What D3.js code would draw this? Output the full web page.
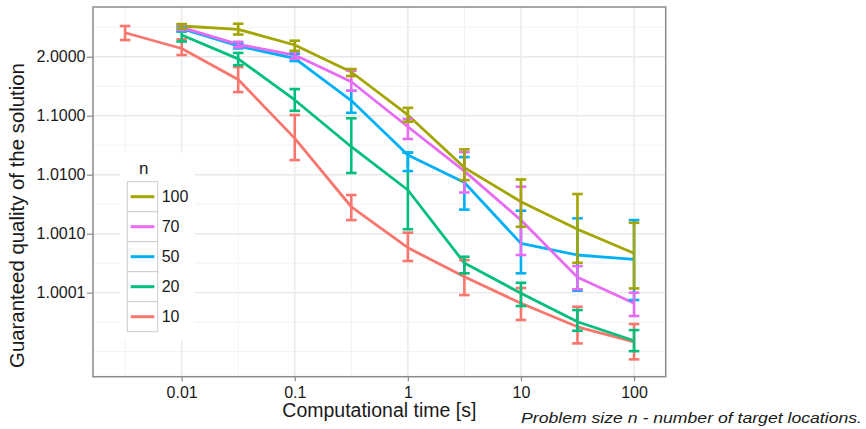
<!DOCTYPE html>
<html>
<head>
<meta charset="utf-8">
<script src="https://cdn.jsdelivr.net/npm/d3@7"></script>
<style>
  body { margin: 0; background: #fff; }
  svg text { font-family: "Liberation Sans", Arial, Helvetica, sans-serif; fill: #1a1a1a; }
</style>
</head>
<body>
<svg id="chart" width="866" height="429"></svg>
<script>
// Computational time [s] for each measurement
const times = [0.00316, 0.01, 0.0316, 0.1, 0.316, 1, 3.16, 10, 31.6, 100];

// Problem sizes (legend order is reversed when drawn)
const sizes = ['10', '20', '50', '70', '100'];

// Gap to optimum (quality - 1): mean, lower and upper error bar, per problem size
const gap10   = [2.55, 1.38, 0.41, 0.0413, 2.86e-3, 5.78e-4, 1.86e-4, 6.6e-5, 2.64e-5, 1.47e-5];
const gap10Lo = [1.92, 1.07, 0.252, 0.0177, 1.70e-3, 3.44e-4, 9.1e-5, 3.44e-5, 1.38e-5, 7.4e-6];
const gap10Hi = [3.32, 1.97, 0.668, 0.103, 4.52e-3, 1.04e-3, 3.57e-4, 1.20e-4, 5.77e-5, 2.94e-5];

const gap20   = [null, 2.33, 0.92, 0.185, 0.0298, 5.5e-3, 3.18e-4, 9.75e-5, 3.21e-5, 1.53e-5];
const gap20Lo = [null, 1.81, 0.72, 0.121, 0.0107, 1.19e-3, 2.13e-4, 5.93e-5, 2.26e-5, 1.02e-5];
const gap20Hi = [null, 2.67, 1.16, 0.283, 0.0904, 0.0236, 4.06e-4, 1.47e-4, 5.07e-5, 2.32e-5];

const gap50   = [null, 2.99, 1.52, 0.94, 0.181, 0.0215, 7.36e-3, 6.85e-4, 4.35e-4, 3.67e-4];
const gap50Lo = [null, 2.73, 1.38, 0.845, 0.112, 0.0115, 2.56e-3, 2.13e-4, 1.08e-4, 7.5e-5];
const gap50Hi = [null, 3.25, 1.71, 1.13, 0.265, 0.0238, 0.0199, 2.45e-3, 1.82e-3, 1.70e-3];

const gap70   = [null, 3.15, 1.62, 1.07, 0.377, 0.065, 0.0115, 1.70e-3, 1.82e-4, 6.6e-5];
const gap70Lo = [null, 2.84, 1.44, 0.93, 0.265, 0.0403, 4.99e-3, 4.35e-4, 1.14e-4, 4.02e-5];
const gap70Hi = [null, 3.44, 1.79, 1.22, 0.58, 0.088, 0.0242, 6.25e-3, 2.82e-4, 9.98e-5];

const gap100   = [null, 3.32, 2.92, 1.58, 0.551, 0.103, 0.0132, 3.48e-3, 1.19e-3, 4.65e-4];
const gap100Lo = [null, 3.01, 2.38, 1.26, 0.471, 0.079, 8.1e-3, 1.31e-3, 3.21e-4, 1.18e-4];
const gap100Hi = [null, 3.58, 3.63, 1.87, 0.618, 0.136, 0.0269, 8.3e-3, 4.7e-3, 1.53e-3];

// Axis ticks
const xTickValues = [0.01, 0.1, 1, 10, 100];
const xTickLabels = ['0.01', '0.1', '1', '10', '100'];
const yTickValues = [1, 0.1, 0.01, 0.001, 0.0001];
const yTickLabels = ['2.0000', '1.1000', '1.0100', '1.0010', '1.0001'];

// ggplot default hues
const colors = { '10': '#F8766D', '20': '#00BF7D', '50': '#00B0F6', '70': '#E76BF3', '100': '#A3A500' };

const seriesValues = {
  '10': [gap10, gap10Lo, gap10Hi],
  '20': [gap20, gap20Lo, gap20Hi],
  '50': [gap50, gap50Lo, gap50Hi],
  '70': [gap70, gap70Lo, gap70Hi],
  '100': [gap100, gap100Lo, gap100Hi]
};

// Build row objects for each series, skipping missing points
const series = sizes.map(n => {
  const [mean, lo, hi] = seriesValues[n];
  const points = times
    .map((t, i) => ({ t, mean: mean[i], lo: lo[i], hi: hi[i] }))
    .filter(d => d.mean !== null);
  return { n, points };
});

const svg = d3.select('#chart');
const panel = { left: 93, right: 665.7, top: 7, bottom: 376.7 };

const x = d3.scaleLog()
  .domain([0.001644, 190.5])
  .range([panel.left, panel.right]);

const y = d3.scaleLog()
  .domain([3.76e-6, 6.97])
  .range([panel.bottom, panel.top]);

// Panel grid (minor lines at half decades, then major lines)
const grid = svg.append('g');
const xMinor = [-2.5, -1.5, -0.5, 0.5, 1.5].map(e => Math.pow(10, e));
const yMinor = d3.range(-5, 1, 0.5).map(e => Math.pow(10, e));

grid.selectAll('.xminor').data(xMinor).enter().append('line')
  .attr('x1', d => x(d)).attr('x2', d => x(d))
  .attr('y1', panel.top).attr('y2', panel.bottom)
  .attr('stroke', '#f2f2f2').attr('stroke-width', 1);
grid.selectAll('.yminor').data(yMinor).enter().append('line')
  .attr('y1', d => y(d)).attr('y2', d => y(d))
  .attr('x1', panel.left).attr('x2', panel.right)
  .attr('stroke', '#f2f2f2').attr('stroke-width', 1);
grid.selectAll('.xmajor').data(xTickValues).enter().append('line')
  .attr('x1', d => x(d)).attr('x2', d => x(d))
  .attr('y1', panel.top).attr('y2', panel.bottom)
  .attr('stroke', '#e9e9e9').attr('stroke-width', 1.4);
grid.selectAll('.ymajor').data(yTickValues).enter().append('line')
  .attr('y1', d => y(d)).attr('y2', d => y(d))
  .attr('x1', panel.left).attr('x2', panel.right)
  .attr('stroke', '#e9e9e9').attr('stroke-width', 1.4);

// Lines
const line = d3.line()
  .x(d => x(d.t))
  .y(d => y(d.mean));

svg.append('g').selectAll('path')
  .data(series)
  .enter()
  .append('path')
  .attr('d', d => line(d.points))
  .attr('fill', 'none')
  .attr('stroke', d => colors[d.n])
  .attr('stroke-width', 2.8)
  .attr('stroke-linejoin', 'round');

// Error bars drawn as a second layer, like ggplot does
const capHalf = 5.3;
const bars = svg.append('g').selectAll('g')
  .data(series)
  .enter()
  .append('g')
  .attr('stroke', d => colors[d.n])
  .attr('stroke-width', 2.6)
  .attr('fill', 'none');

bars.each(function (s) {
  const g = d3.select(this);
  s.points.forEach(p => {
    const cx = x(p.t);
    g.append('line').attr('x1', cx).attr('x2', cx).attr('y1', y(p.lo)).attr('y2', y(p.hi));
    g.append('line').attr('x1', cx - capHalf).attr('x2', cx + capHalf).attr('y1', y(p.lo)).attr('y2', y(p.lo));
    g.append('line').attr('x1', cx - capHalf).attr('x2', cx + capHalf).attr('y1', y(p.hi)).attr('y2', y(p.hi));
  });
});

// Panel border
svg.append('rect')
  .attr('x', panel.left).attr('y', panel.top)
  .attr('width', panel.right - panel.left)
  .attr('height', panel.bottom - panel.top)
  .attr('fill', 'none')
  .attr('stroke', '#8a8a8a')
  .attr('stroke-width', 1.5);

// Axes
const xAxis = d3.axisBottom(x)
  .tickValues(xTickValues)
  .tickFormat((d, i) => xTickLabels[i])
  .tickSize(4.5)
  .tickPadding(5);

const yAxis = d3.axisLeft(y)
  .tickValues(yTickValues)
  .tickFormat((d, i) => yTickLabels[i])
  .tickSize(6)
  .tickPadding(1.5);

const gx = svg.append('g')
  .attr('transform', `translate(0,${panel.bottom})`)
  .call(xAxis);
const gy = svg.append('g')
  .attr('transform', `translate(${panel.left},0)`)
  .call(yAxis);

[gx, gy].forEach(g => {
  g.select('.domain').remove();
  g.selectAll('.tick line').attr('stroke', '#8a8a8a').attr('stroke-width', 1.2);
  g.selectAll('.tick text')
    .attr('fill', '#1a1a1a')
    .style('font-size', '16px')
    .style('font-family', '"Liberation Sans", Arial, sans-serif');
});

// Axis titles
svg.append('text')
  .attr('x', (panel.left + panel.right) / 2)
  .attr('y', 417)
  .attr('text-anchor', 'middle')
  .style('font-size', '19.5px')
  .text('Computational time [s]');

svg.append('text')
  .attr('transform', 'translate(23.5,215.5) rotate(-90)')
  .attr('text-anchor', 'middle')
  .style('font-size', '20.4px')
  .text('Guaranteed quality of the solution');

// Legend
const legend = svg.append('g');
legend.append('rect')
  .attr('x', 120).attr('y', 153)
  .attr('width', 75).attr('height', 187)
  .attr('fill', '#fff');

legend.append('text')
  .attr('x', 139).attr('y', 174)
  .style('font-size', '17px')
  .text('n');

const keyH = 30;
const keys = legend.selectAll('.key')
  .data(sizes.slice().reverse())
  .enter()
  .append('g')
  .attr('transform', (d, i) => `translate(127.3,${181.7 + i * keyH})`);

keys.append('rect')
  .attr('width', 30.4).attr('height', keyH)
  .attr('fill', '#fff')
  .attr('stroke', '#cccccc')
  .attr('stroke-width', 1);

keys.append('line')
  .attr('x1', 3.4).attr('x2', 27)
  .attr('y1', keyH / 2).attr('y2', keyH / 2)
  .attr('stroke', d => colors[d])
  .attr('stroke-width', 3);

keys.append('text')
  .attr('x', 34.4).attr('y', keyH / 2)
  .attr('dy', '0.36em')
  .style('font-size', '16px')
  .text(d => d);

// Caption (stretched to the width it takes in the original)
svg.append('text')
  .attr('x', 521).attr('y', 423)
  .attr('textLength', 341)
  .attr('lengthAdjust', 'spacingAndGlyphs')
  .style('font-size', '15px')
  .style('font-style', 'italic')
  .attr('fill', '#111')
  .text('Problem size n - number of target locations.');
</script>
</body>
</html>
